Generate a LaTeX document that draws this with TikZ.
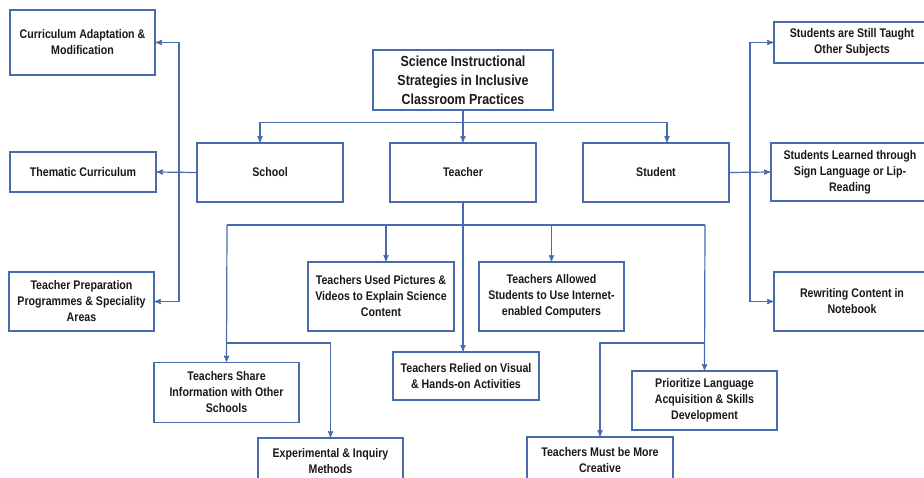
\documentclass[tikz,border=0pt]{standalone}
\usepackage{fontspec}
\setmainfont{Liberation Sans}[FakeStretch=0.85]
\usepackage{tikz}
\usetikzlibrary{arrows,calc,positioning}

\definecolor{boxblue}{RGB}{70,106,172}

\begin{document}
\begin{tikzpicture}[x=1pt,y=-1pt,>=stealth',align=center,
		box/.style={draw=boxblue,line width=1.6pt,fill=white,inner sep=2pt,
			font=\fontsize{12.5}{16}\selectfont\bfseries,text=black!90,
			minimum width=146pt,minimum height=59pt},
		link/.style={draw=boxblue,line width=1.2pt}]
			\useasboundingbox (0,0) rectangle (924,477);
			% top and the three groups
			\node[box,minimum width=180pt,minimum height=60pt,font=\fontsize{14.6}{19}\selectfont\bfseries] (top) at (463,80) {Science Instructional\\Strategies in Inclusive\\Classroom Practices};
			\node[box] (school) at (270,172.5) {School};
			\node[box] (teacher) at (463,172.5) {Teacher};
			\node[box] (student) at (656,172.5) {Student};
			% school side
			\node[box,minimum width=145pt,minimum height=65pt] (curr) at (82.5,42.5) {Curriculum Adaptation \&\\Modification};
			\node[box,minimum height=40pt] (thematic) at (83,172) {Thematic Curriculum};
			\node[box,minimum width=145pt] (prep) at (81.5,301.5) {Teacher Preparation\\Programmes \& Speciality\\Areas};
			% student side
			\node[box,minimum width=156pt,minimum height=41pt] (still) at (852,42.5) {Students are Still Taught\\Other Subjects};
			\node[box,minimum width=158pt,minimum height=58pt] (learned) at (850,172) {Students Learned through\\Sign Language or Lip-\\Reading};
			\node[box,minimum width=156pt] (rewriting) at (852,301.5) {Rewriting Content in\\Notebook};
			% teacher side
			\node[box,minimum height=69pt] (pictures) at (381,296.5) {Teachers Used Pictures \&\\Videos to Explain Science\\Content};
			\node[box,minimum width=145pt,minimum height=69pt] (allowed) at (551.5,296.5) {Teachers Allowed\\Students to Use Internet-\\enabled Computers};
			\node[box,minimum height=48pt] (relied) at (466,376) {Teachers Relied on Visual\\\& Hands-on Activities};
			\node[box,minimum width=145pt,minimum height=60pt] (share) at (226.5,392.5) {Teachers Share\\Information with Other\\Schools};
			\node[box,minimum width=145pt,minimum height=46pt] (experimental) at (330.5,461) {Experimental \& Inquiry\\Methods};
			\node[box,minimum width=145pt] (prioritize) at (704.5,400.5) {Prioritize Language\\Acquisition \& Skills\\Development};
			\node[box,minimum height=46pt] (must) at (600,460) {Teachers Must be More\\Creative};
			\coordinate (lspine) at (179,172);
			\coordinate (rspine) at (750,172);
			\coordinate (ltee) at (227,225);
			\coordinate (rtee) at (705,225);
			\coordinate (lfork) at (227,343);
			\coordinate (rfork) at (705,343);
			% connectors
			\draw[link,->] (top.south) -- ++(0,12) -| ([xshift=-10pt]school.north);
			\draw[link,->] (top.south) -- (teacher.north);
			\draw[link,->] (top.south) -- ++(0,12) -| ([xshift=11pt]student.north);
			\draw[link,->] (school.west) -- (thematic.east);
			\draw[link,->] (lspine) |- (curr.east);
			\draw[link,->] (lspine) |- (prep.east);
			\draw[link,->] (student.east) -- (learned.west);
			\draw[link,->] (rspine) |- (still.west);
			\draw[link,->] (rspine) |- (rewriting.west);
			\draw[link,->] (teacher.south) -- (teacher.south |- relied.north);
			\draw[link] (ltee) -- (rtee);
			\draw[link,->] ([xshift=5pt]pictures.north |- ltee) -- ([xshift=5pt]pictures.north);
			\draw[link,->] (allowed.north |- ltee) -- (allowed.north);
			\draw[link,->] (ltee) -- (share.north);
			\draw[link,->] (lfork) -| (experimental.north);
			\draw[link,->] (rtee) -- (prioritize.north);
			\draw[link,->] (rfork) -| (must.north);
		\end{tikzpicture}
\end{document}
